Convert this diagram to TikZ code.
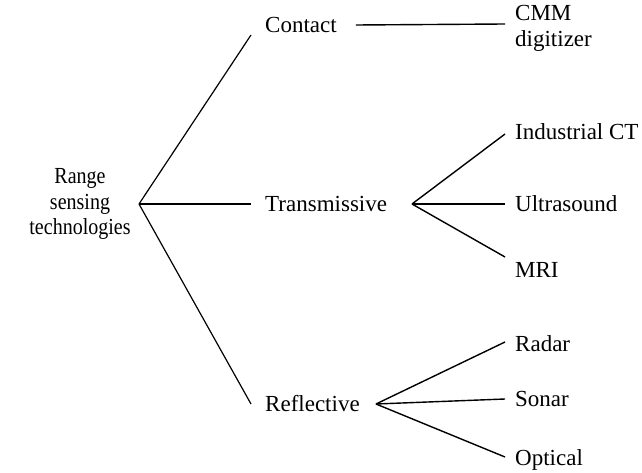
\documentclass[tikz,border=0pt]{standalone}
\usepackage{fontspec}
\setmainfont{Liberation Serif}
\newfontfamily\narrowfont{Liberation Serif}[FakeStretch=0.87]
\begin{document}
\begin{tikzpicture}[x=1pt,y=-1pt,
  lbl/.style={anchor=west,inner sep=0pt,font=\fontsize{23}{26}\selectfont},
  edge/.style={draw=black,line width=1.4pt},
  thin edge/.style={draw=black,line width=1.2pt}]
\useasboundingbox (0,0) rectangle (642,473);
% nodes
\node[inner sep=0pt,align=center,font=\narrowfont\fontsize{23}{25.5}\selectfont] (root) at (80,204) {Range\\sensing\\technologies};
\coordinate (j0) at (139,204);
\node[lbl] (contact) at (265,25) {Contact};
\node[lbl] (trans) at (265,204) {Transmissive};
\node[lbl] (refl) at (265,404) {Reflective};
\node[lbl,align=left] (cmm) at (515,28) {CMM\\digitizer};
\coordinate (j1) at (412,204);
\coordinate (j2) at (376,404);
\node[lbl] (ict) at (515,132) {Industrial CT};
\node[lbl] (us) at (515,204) {Ultrasound};
\node[lbl] (mri) at (515,270) {MRI};
\node[lbl] (radar) at (515,344) {Radar};
\node[lbl] (sonar) at (515,399) {Sonar};
\node[lbl] (optical) at (515,460) {Optical};
% connectors
\draw[thin edge] (j0) -- ([xshift=-14pt,yshift=-10pt]contact.west);
\draw[edge] (j0) -- ([xshift=-14pt]trans.west);
\draw[thin edge] (j0) -- ([xshift=-14pt]refl.west);
\draw[edge] ([xshift=19pt]contact.east) -- ([xshift=-10pt,yshift=4pt]cmm.west);
\draw[edge] (j1) -- ([xshift=-10pt,yshift=-2pt]ict.west);
\draw[edge] (j1) -- ([xshift=-10pt]us.west);
\draw[edge] (j1) -- ([xshift=-10pt,yshift=13pt]mri.west);
\draw[edge] (j2) -- ([xshift=-10pt,yshift=2pt]radar.west);
\draw[edge] (j2) -- ([xshift=-10pt]sonar.west);
\draw[edge] (j2) -- ([xshift=-10pt,yshift=3pt]optical.west);
\end{tikzpicture}
\end{document}
